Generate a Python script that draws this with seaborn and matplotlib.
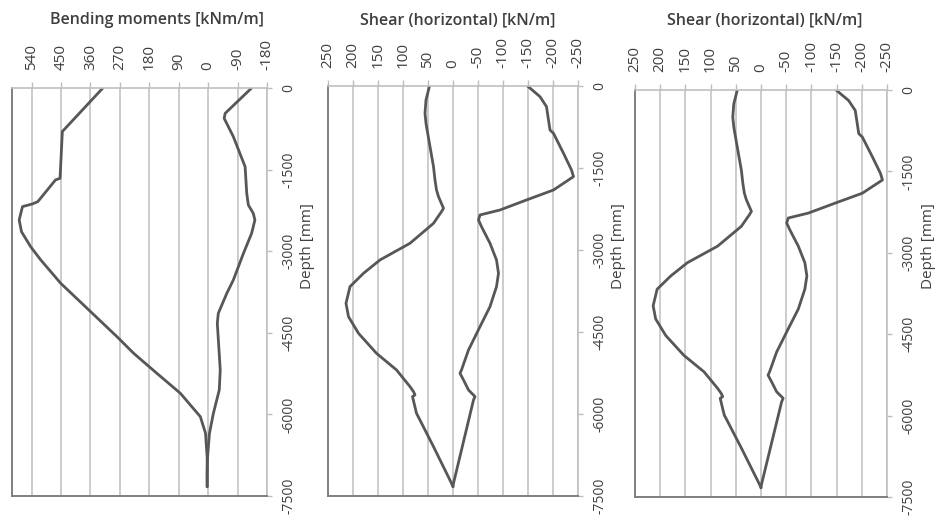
import pandas as pd
import seaborn as sns
import matplotlib.pyplot as plt

# bending moment envelope (depth in mm, value in kNm/m)
bm_max_depth = [0, -800, -1660, -1690, -2089, -2132, -2181, -2426, -2641, -2917, -3161,
                -3590, -4080, -4571, -4876, -5244, -5612, -6041, -6347, -6800, -7100, -7330]
bm_max_val = [322, 446, 453, 467, 521, 538, 568, 578, 571, 543, 512,
              451, 365, 279, 228, 157, 85, 24, 8, 3, 3, 3]
bm_min_depth = [0, -466, -558, -894, -1446, -1936, -2151, -2304, -2426, -2671, -3039,
                -3530, -3775, -4142, -4325, -5183, -5551, -5980, -6347, -6800, -7100, -7330]
bm_min_val = [-133, -52, -49, -77, -113, -118, -123, -138, -143, -133, -108,
              -77, -57, -31, -28, -37, -34, -16, -4, 2, 3, 3]

# horizontal shear envelope (depth in mm, value in kN/m)
sh_max_depth = [0, -256, -500, -683, -1110, -1476, -1720, -1902, -2024, -2237, -2298,
                -2512, -2877, -3182, -3426, -3670, -3975, -4219, -4524, -4890, -5194,
                -5499, -5591, -5651, -5682, -5987, -6597, -7267, -7330]
sh_max_val = [47, 54, 56, 54, 46, 39, 36, 33, 29, 19, 23,
              39, 86, 146, 179, 206, 214, 209, 189, 153, 113,
              86, 79, 76, 81, 73, 39, 3, 0]
sh_min_depth = [0, -195, -378, -622, -805, -866, -1231, -1536, -1658, -1902, -2085,
                -2268, -2359, -2451, -2573, -2877, -3182, -3426, -3670, -4036, -4402,
                -4829, -5194, -5255, -5377, -5560, -5682, -5743, -7267, -7330]
sh_min_val = [-149, -174, -187, -191, -194, -201, -221, -237, -241, -201, -147,
              -94, -54, -51, -57, -74, -87, -91, -87, -74, -54,
              -31, -17, -14, -21, -31, -44, -41, -1, 0]

bm_ticks = [540, 450, 360, 270, 180, 90, 0, -90, -180]
sh_ticks = [250, 200, 150, 100, 50, 0, -50, -100, -150, -200, -250]
depth_ticks = [0, -1500, -3000, -4500, -6000, -7500]

sns.set_style('white')
plt.rcParams['font.family'] = ['Open Sans', 'DejaVu Sans']
plt.rcParams['axes.unicode_minus'] = False

W, H = 935, 517
fig = plt.figure(figsize=(W / 100, H / 100), dpi=100)

panels = [
    # left, right, top, bottom px, title, title centre x, data, xlim, ticks
    (12, 267, 88, 496, 'Bending moments [kNm/m]', 157,
     (bm_max_depth, bm_max_val, bm_min_depth, bm_min_val), (600, -180), bm_ticks),
    (328, 578, 86, 496, 'Shear (horizontal) [kN/m]', 458,
     (sh_max_depth, sh_max_val, sh_min_depth, sh_min_val), (250, -250), sh_ticks),
    (635, 887, 90, 497, 'Shear (horizontal) [kN/m]', 765,
     (sh_max_depth, sh_max_val, sh_min_depth, sh_min_val), (250, -250), sh_ticks),
]

line_col = '#575757'
text_col = '#3f3f3f'

for left, right, top, bottom, title, tx, data, xlim, ticks in panels:
    ax = fig.add_axes([left / W, (H - bottom) / H, (right - left) / W, (bottom - top) / H])
    d1, v1, d2, v2 = data
    for dd, vv in [(d1, v1), (d2, v2)]:
        df = pd.DataFrame({'depth': dd, 'value': vv})
        sns.lineplot(data=df, x='value', y='depth', sort=False, estimator=None,
                     color=line_col, linewidth=2.0, ax=ax)

    ax.set_xlim(*xlim)
    ax.set_ylim(-7500, 0)
    ax.set_xticks(ticks)
    ax.set_yticks(depth_ticks)
    ax.xaxis.tick_top()
    ax.yaxis.tick_right()
    ax.tick_params(axis='x', labelrotation=90, length=4, width=1, color='#bdbdbd',
                   pad=9, labelsize=11, labelcolor=text_col)
    ax.tick_params(axis='y', labelrotation=90, length=3.6, width=1, color='#bdbdbd',
                   pad=7, labelsize=10, labelcolor=text_col)
    for lab in ax.get_yticklabels():
        lab.set_va('center')
    ax.grid(axis='x', color='#c8c8c8', linewidth=1.3)
    ax.set_axisbelow(True)

    for side in ['left', 'bottom']:
        ax.spines[side].set_color('#7f7f7f')
        ax.spines[side].set_linewidth(1.4)
    for side in ['top', 'right']:
        ax.spines[side].set_color('#c0c0c0')
        ax.spines[side].set_linewidth(1.2)

    ax.set_xlabel('')
    ax.yaxis.set_label_position('right')
    ax.set_ylabel('Depth [mm]', fontsize=11, color=text_col)
    ax.yaxis.label.set_va('center')
    ax.yaxis.set_label_coords(1 + 41 / (right - left), (bottom - 246) / (bottom - top))

    fig.text(tx / W, 1 - 20 / H, title, ha='center', va='center',
             fontsize=11.5, fontweight='semibold', color=text_col)

fig.savefig('out.png', dpi=100)
